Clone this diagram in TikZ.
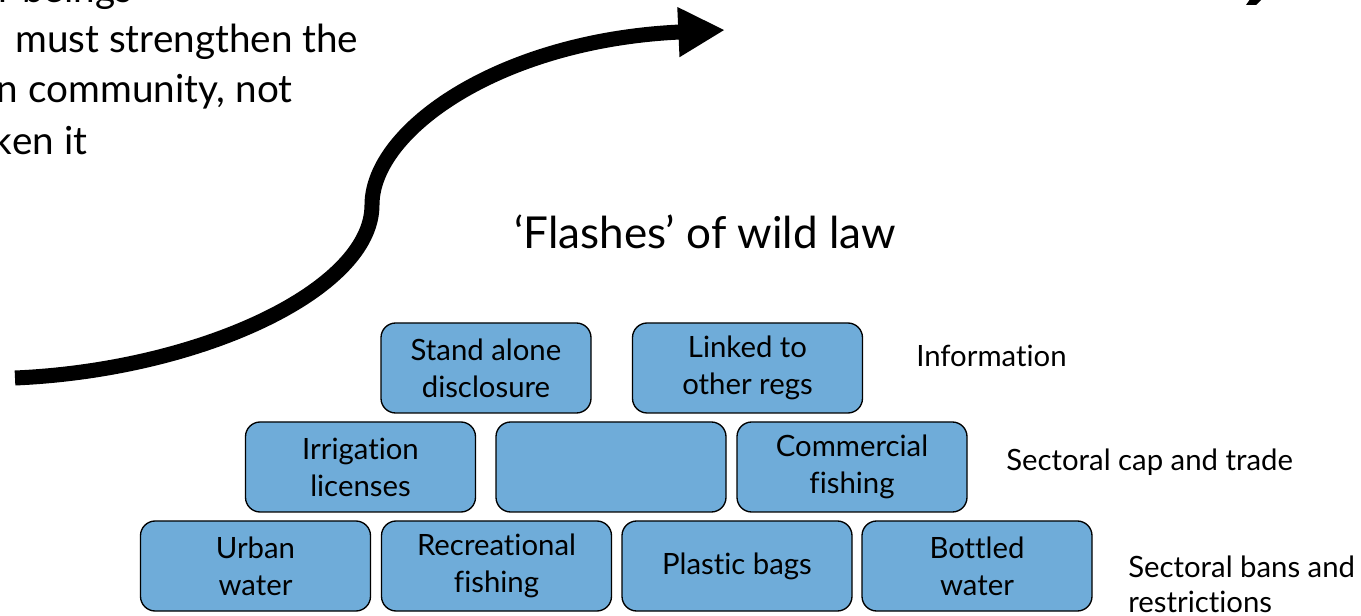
\documentclass[tikz,border=0pt]{standalone}
\usepackage{fontspec}
\setmainfont{Lato}[Ligatures=NoCommon]
\usetikzlibrary{arrows.meta}
\definecolor{boxblue}{RGB}{111,172,217}
\begin{document}
\begin{tikzpicture}[x=0.75pt,y=-0.75pt,
  brick/.style={draw=black,line width=1pt,fill=boxblue,rounded corners=11pt,
    minimum width=172.5pt,minimum height=67.5pt,inner sep=0pt,align=center,
    font=\fontsize{22pt}{27.75pt}\selectfont},
  lbl/.style={anchor=west,inner sep=0pt,align=left,font=\fontsize{22pt}{26pt}\selectfont},
  quote/.style={anchor=base west,inner sep=0pt,font=\fontsize{29pt}{33pt}\selectfont},
  bigarrow/.style={line width=11.25pt,-{Triangle[length=35pt,width=35pt]}}]
\clip (0,0) rectangle (1361,616);
\useasboundingbox (0,0) rectangle (1361,616);
% top-left quote text (cut off)
\node[quote] (q1) at (22,3) {\llap{r }beings};
\node[quote] (q2) at (15,53) {must strengthen the};
\node[quote] (q3) at (28,103) {\llap{n }community, not};
\node[quote] (q4) at (12,155) {\llap{k}en it};
% top-right fragment
\fill (1253,-5) -- (1266,-5) -- (1256,5) -- (1246,5) -- cycle;
% arrow
\coordinate (as) at (15,378);
\coordinate (am) at (372,205);
\coordinate (ae) at (725,30);
\draw[bigarrow] (as) .. controls (200,370) and (372,290) .. (am)
  .. controls (372,130) and (500,40) .. (ae);
% title
\node[inner sep=0pt,font=\fontsize{33pt}{36pt}\selectfont] (title) at (705,232) {‘Flashes’ of wild law};
% bricks
\node[brick,minimum width=157.5pt] (sa) at (486,368) {Stand alone\\disclosure};
\node[brick] (lk) at (747.5,368) {Linked to\\other regs};
\node[brick] (ir) at (360.5,467) {Irrigation\\licenses};
\node[brick] (em) at (611,467) {};
\node[brick] (cf) at (852,467) {Commercial\\fishing};
\node[brick] (uw) at (255.5,566) {Urban\\water};
\node[brick] (rf) at (496.5,566) {Recreational\\fishing};
\node[brick] (pb) at (737,566) {Plastic bags};
\node[brick] (bw) at (977,566) {Bottled\\water};
% labels
\node[lbl] (l1) at (916,356) {Information};
\node[lbl] (l2) at (1006,462) {Sectoral cap and trade};
\node[lbl] (l3) at (1128,584) {Sectoral bans and\\restrictions};
\end{tikzpicture}
\end{document}
